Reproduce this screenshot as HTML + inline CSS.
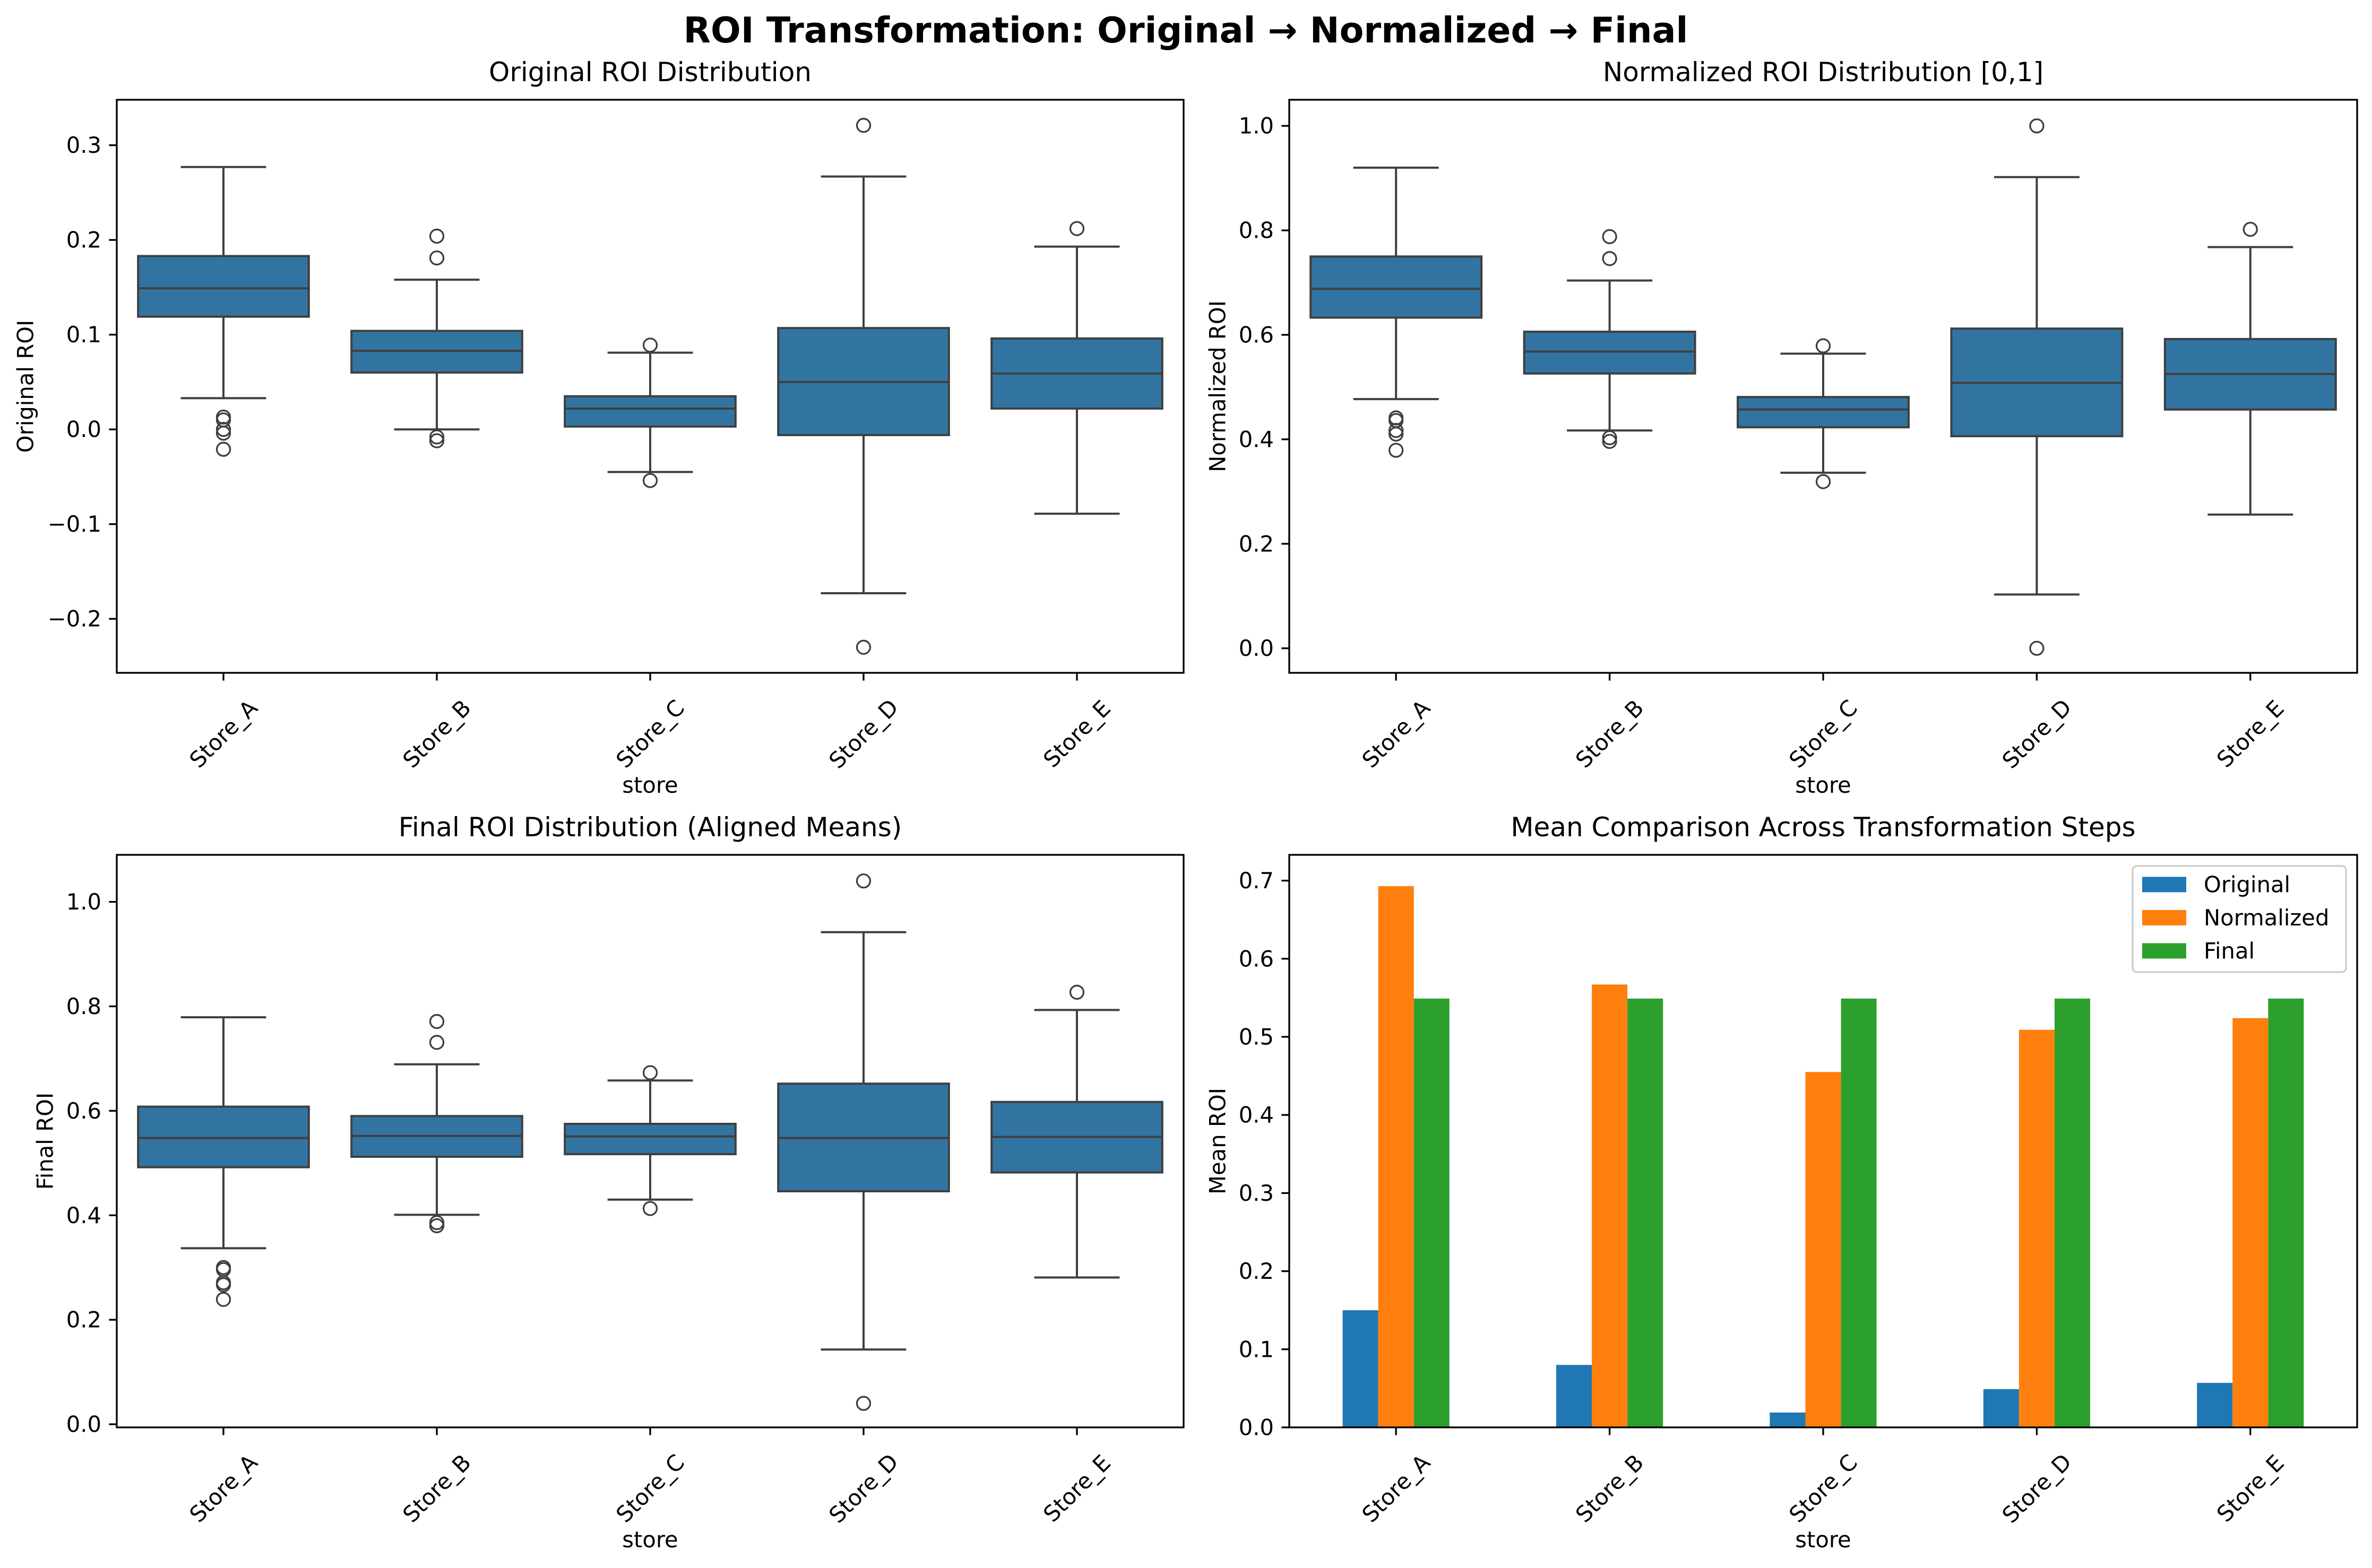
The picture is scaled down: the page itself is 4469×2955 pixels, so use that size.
<!DOCTYPE html>
<html><head><meta charset="utf-8"><style>
html,body{margin:0;padding:0;background:#fff;}
svg{display:block;font-family:"DejaVu Sans","Liberation Sans",sans-serif;}
</style></head><body>
<svg id="fig" xmlns="http://www.w3.org/2000/svg" width="4469" height="2955" viewBox="0 0 4469 2955">
<rect width="4469" height="2955" fill="#fff"/>
<text x="2234" y="80" text-anchor="middle" font-size="66.7" font-weight="bold">ROI Transformation: Original → Normalized → Final</text>
</svg>
<script>
const stores = ["Store_A","Store_B","Store_C","Store_D","Store_E"];
// box stats: [whiskerLow, Q1, median, Q3, whiskerHigh]
const origStats = [[0.033,0.119,0.149,0.183,0.277],[0.0,0.060,0.083,0.104,0.158],[-0.045,0.003,0.022,0.035,0.081],[-0.173,-0.006,0.050,0.107,0.267],[-0.089,0.022,0.059,0.096,0.193]];
const origOut = [[0.013,0.010,0.0,-0.004,-0.021],[0.204,0.181,-0.008,-0.012],[0.089,-0.054],[0.321,-0.230],[0.212]];
const normStats = [[0.477,0.633,0.688,0.750,0.920],[0.417,0.526,0.568,0.606,0.704],[0.336,0.423,0.457,0.481,0.564],[0.103,0.406,0.508,0.612,0.902],[0.256,0.457,0.525,0.592,0.768]];
const normOut = [[0.441,0.436,0.417,0.410,0.379],[0.788,0.746,0.403,0.396],[0.579,0.319],[1.0,0.0],[0.802]];
const finalStats = [[0.337,0.492,0.548,0.608,0.779],[0.401,0.512,0.552,0.590,0.689],[0.430,0.517,0.551,0.575,0.658],[0.143,0.446,0.548,0.652,0.942],[0.281,0.482,0.550,0.617,0.793]];
const finalOut = [[0.300,0.296,0.271,0.267,0.239],[0.771,0.731,0.386,0.380],[0.673,0.413],[1.04,0.04],[0.827]];
const meanOriginal = [0.150,0.080,0.019,0.049,0.057];
const meanNormalized = [0.693,0.567,0.455,0.509,0.524];
const meanFinal = [0.549,0.549,0.549,0.549,0.549];
const ticksOrig = [-0.2,-0.1,0.0,0.1,0.2,0.3];
const ticksNorm = [0.0,0.2,0.4,0.6,0.8,1.0];
const ticksFinal = [0.0,0.2,0.4,0.6,0.8,1.0];
const ticksMean = [0.0,0.1,0.2,0.3,0.4,0.5,0.6,0.7];
const seriesNames = ["Original","Normalized","Final"];
const seriesColors = ["#1f77b4","#ff7f0e","#2ca02c"];

const NS="http://www.w3.org/2000/svg";
const svg=document.getElementById('fig');
function mk(tag,attrs,parent){const e=document.createElementNS(NS,tag);for(const k in attrs)e.setAttribute(k,attrs[k]);(parent||svg).appendChild(e);return e;}
function fmt(v){const s=v.toFixed(1);return v<0?"\u2212"+s.slice(1):s;}

function makeAxes(name,L,T,R,B,ymin,ymax,ticks,title,ylabel,ylabelX){
  const g=mk('g',{});
  
  
  const xs=i=>L+(i+0.5)*(R-L)/stores.length;
  const ys=v=>B-(v-ymin)/(ymax-ymin)*(B-T);
  const t=mk('text',{x:(L+R)/2,y:T-35,'text-anchor':'middle','font-size':50},g);
  t.textContent=title;
  
  
  ticks.forEach(v=>{
    const y=ys(v);
    const tk=mk('line',{x1:L-14.6,x2:L,y1:y,y2:y,stroke:'#000','stroke-width':3.3},g);
    
    
    const tl=mk('text',{x:L-29,y:y,'text-anchor':'end','dominant-baseline':'central','font-size':41.7},g);
    tl.textContent=fmt(v);
    
    
  });
  stores.forEach((s,i)=>{
    const x=xs(i);
    const tk=mk('line',{x1:x,x2:x,y1:B,y2:B+14.6,stroke:'#000','stroke-width':3.3},g);
    
    
    const cy=B+115;
    const tl=mk('text',{x:x,y:cy,'text-anchor':'middle','dominant-baseline':'central','font-size':41.7,transform:`rotate(-45 ${x} ${cy})`},g);
    tl.textContent=s;
    
    
  });
  const xl=mk('text',{x:(L+R)/2,y:B+226,'text-anchor':'middle','font-size':41.7},g);
  xl.textContent='store';
  
  
  const cy=(T+B)/2;
  const yl=mk('text',{x:ylabelX,y:cy,'text-anchor':'middle','dominant-baseline':'central','font-size':41.7,transform:`rotate(-90 ${ylabelX} ${cy})`},g);
  yl.textContent=ylabel;
  
  
  return {g,xs,ys,L,T,R,B};
}
function frame(ax){
  const f=mk('rect',{x:ax.L,y:ax.T,width:ax.R-ax.L,height:ax.B-ax.T,fill:'none',stroke:'#000','stroke-width':3.3},ax.g);
  
  
}
function boxplot(ax,stats,outs){
  const cw=(ax.R-ax.L)/stores.length;
  stats.forEach((st,i)=>{
    const x=ax.xs(i), bw=cw*0.8, capw=cw*0.4;
    const bg=mk('g',{},ax.g);
    
    
    const c='#3f3f3f', sw=4;
    mk('line',{x1:x,x2:x,y1:ax.ys(st[0]),y2:ax.ys(st[1]),stroke:c,'stroke-width':sw},bg);
    mk('line',{x1:x,x2:x,y1:ax.ys(st[3]),y2:ax.ys(st[4]),stroke:c,'stroke-width':sw},bg);
    mk('line',{x1:x-capw/2,x2:x+capw/2,y1:ax.ys(st[0]),y2:ax.ys(st[0]),stroke:c,'stroke-width':sw},bg);
    mk('line',{x1:x-capw/2,x2:x+capw/2,y1:ax.ys(st[4]),y2:ax.ys(st[4]),stroke:c,'stroke-width':sw},bg);
    mk('rect',{x:x-bw/2,y:ax.ys(st[3]),width:bw,height:ax.ys(st[1])-ax.ys(st[3]),fill:'#3274a1',stroke:c,'stroke-width':sw},bg);
    mk('line',{x1:x-bw/2,x2:x+bw/2,y1:ax.ys(st[2]),y2:ax.ys(st[2]),stroke:c,'stroke-width':sw},bg);
    outs[i].forEach(v=>{
      const o=mk('circle',{cx:x,cy:ax.ys(v),r:12.5,fill:'none',stroke:c,'stroke-width':3.3},bg);
      
      
    });
  });
  frame(ax);
}
const a1=makeAxes('original-roi-panel',220,188,2230,1268,-0.257,0.348,ticksOrig,'Original ROI Distribution','Original ROI',48);
boxplot(a1,origStats,origOut);
const a2=makeAxes('normalized-roi-panel',2429,188,4441,1268,-0.047,1.050,ticksNorm,'Normalized ROI Distribution [0,1]','Normalized ROI',2294);
boxplot(a2,normStats,normOut);
const a3=makeAxes('final-roi-panel',220,1611,2230,2690,-0.006,1.090,ticksFinal,'Final ROI Distribution (Aligned Means)','Final ROI',85);
boxplot(a3,finalStats,finalOut);
const a4=makeAxes('mean-comparison-panel',2429,1611,4441,2690,0,0.733,ticksMean,'Mean Comparison Across Transformation Steps','Mean ROI',2294);
const seriesVals=[meanOriginal,meanNormalized,meanFinal];
const cw4=(a4.R-a4.L)/stores.length, bw4=cw4*0.5/3;
seriesVals.forEach((vals,si)=>{
  vals.forEach((v,i)=>{
    const x=a4.xs(i)-cw4*0.25+si*bw4;
    const r=mk('rect',{x:x,y:a4.ys(v),width:bw4,height:a4.ys(0)-a4.ys(v),fill:seriesColors[si]},a4.g);
    
    
  });
});
frame(a4);
const lg=mk('g',{},a4.g);


mk('rect',{x:4018,y:1632,width:402,height:200,rx:8,fill:'#fff','fill-opacity':0.8,stroke:'#cccccc','stroke-width':3.3},lg);
seriesNames.forEach((n,si)=>{
  const cy=1667+si*62.5;
  const e=mk('g',{},lg);
  
  
  mk('rect',{x:4036,y:cy-14.5,width:83,height:29,fill:seriesColors[si]},e);
  const t=mk('text',{x:4152,y:cy,'dominant-baseline':'central','font-size':41.7},e);
  t.textContent=n;
});
</script>
</body></html>
